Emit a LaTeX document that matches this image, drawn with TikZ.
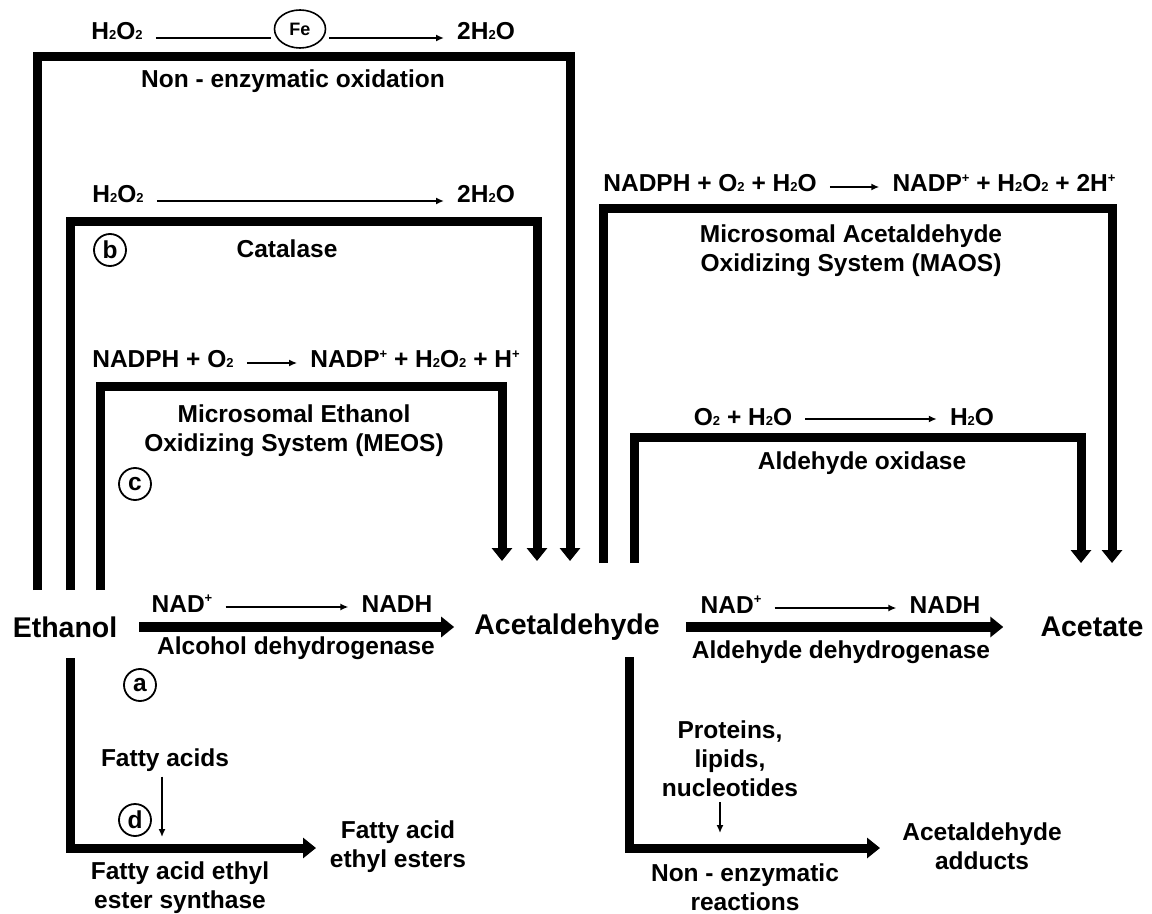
\documentclass[tikz,border=0pt]{standalone}
\usepackage{fontspec}
\setmainfont{Liberation Sans}
\usepackage{tikz}
\usetikzlibrary{arrows.meta, shapes.geometric}

\newcommand{\dn}[1]{{\fontsize{13}{13}\selectfont #1}}
\newcommand{\up}[1]{\raisebox{0.38em}{\fontsize{13}{13}\selectfont #1}}

\begin{document}
\begin{tikzpicture}[x=1pt, y=-1pt,
    lbl/.style={font=\fontsize{24.5}{29}\selectfont\bfseries, align=center, inner sep=0pt},
    chem/.style={font=\fontsize{28.5}{32}\selectfont\bfseries, inner sep=0pt},
    eqn/.style={font=\fontsize{24.5}{29}\selectfont\bfseries, anchor=base, inner xsep=13pt, inner ysep=0pt},
    tag/.style={circle, draw, line width=1.8pt, minimum size=32pt, inner sep=0pt, font=\fontsize{24.5}{29}\selectfont\bfseries},
    pathway/.style={line width=9pt, line join=miter, -{Triangle[width=20pt,length=13pt]}},
    react/.style={line width=1.8pt, -{Latex[width=7pt,length=8pt]}}]

    % Background and bounds
    \fill[white] (0,0) rectangle (1152,913);

    % Non-enzymatic oxidation
    \node[eqn] (hpa) at (117,40) {H\dn{2}O\dn{2}};
    \node[ellipse, draw, line width=1.6pt, minimum width=51pt, minimum height=38pt, inner sep=0pt,
          font=\fontsize{18}{18}\selectfont\bfseries] (fe) at (300,29) {Fe};
    \node[eqn] (wa) at (486,40) {2H\dn{2}O};
    \coordinate (fe-in) at ([yshift=-9pt]fe.west);
    \coordinate (fe-out) at ([yshift=-9pt]fe.east);
    \draw[line width=1.8pt, shorten >=3pt] ([yshift=2pt]hpa.base east) -- (fe-in);
    \draw[react, shorten <=3pt] (fe-out) -- ([yshift=2pt]wa.base west);
    \node[lbl] (nonox) at (293,81) {Non - enzymatic oxidation};

    % Catalase
    \node[eqn] (hpb) at (118,203) {H\dn{2}O\dn{2}};
    \node[eqn] (wb) at (486,203) {2H\dn{2}O};
    \draw[react] ([yshift=2pt]hpb.base east) -- ([yshift=2pt]wb.base west);
    \node[lbl] (catalase) at (287,249) {Catalase};
    \node[tag] (b) at (110,250) {b};

    % MEOS
    \node[eqn] (meosin) at (163,368) {NADPH + O\dn{2}};
    \node[eqn] (meosout) at (415,368) {NADP\up{+} + H\dn{2}O\dn{2} + H\up{+}};
    \draw[react] ([yshift=5pt]meosin.base east) -- ([yshift=5pt]meosout.base west);
    \node[lbl] (meos) at (294,431) {Microsomal Ethanol\\Oxidizing System (MEOS)};
    \node[tag] (c) at (135,484) {c};

    % Main line
    \node[chem] (ethanol) at (65,627) {Ethanol};
    \node[chem] (acetaldehyde) at (567,627) {Acetaldehyde};
    \node[chem] (acetate) at (1092,627) {Acetate};

    \node[eqn] (nada) at (182,612) {NAD\up{+}};
    \node[eqn] (nadha) at (397,612) {NADH};
    \draw[react] ([yshift=5pt]nada.base east) -- ([yshift=5pt]nadha.base west);
    \draw[pathway, line width=10pt, shorten <=22pt, shorten >=20pt] (ethanol.east) -- (acetaldehyde.west);
    \node[lbl] (adh) at (296,648) {Alcohol dehydrogenase};
    \node[tag] (a) at (140,685) {a};

    \node[eqn] (nadb) at (731,613) {NAD\up{+}};
    \node[eqn] (nadhb) at (945,613) {NADH};
    \draw[react] ([yshift=5pt]nadb.base east) -- ([yshift=5pt]nadhb.base west);
    \draw[pathway, line width=10pt, shorten <=26pt, shorten >=37pt] (acetaldehyde.east) -- (acetate.west);
    \node[lbl] (aldh) at (841,652) {Aldehyde dehydrogenase};

    % MAOS and aldehyde oxidase
    \node[eqn] (maosin) at (710,192) {NADPH + O\dn{2} + H\dn{2}O};
    \node[eqn] (maosout) at (1004,192) {NADP\up{+} + H\dn{2}O\dn{2} + 2H\up{+}};
    \draw[react] ([yshift=5pt]maosin.base east) -- ([yshift=5pt]maosout.base west);
    \node[lbl] (maos) at (851,251) {Microsomal Acetaldehyde\\Oxidizing System (MAOS)};

    \node[eqn] (aoin) at (743,425) {O\dn{2} + H\dn{2}O};
    \node[eqn] (aoout) at (972,425) {H\dn{2}O};
    \draw[react] ([yshift=6pt]aoin.base east) -- ([yshift=6pt]aoout.base west);
    \node[lbl] (ao) at (862,463) {Aldehyde oxidase};

    % Pathway brackets
    \foreach \n/\xl/\yf/\yt/\xr/\yh in {ox/37/590/57/570/561, cat/70/590/222/537/561,
            meos/100/590/387/502/561, maos/603/563/209/1112/563, ao/634/563/437/1081/563} {
        \coordinate (\n-foot) at (\xl,\yf);
        \coordinate (\n-top) at (\xr,\yt);
        \coordinate (\n-tip) at (\xr,\yh);
        \draw[pathway] (\n-foot) |- (\n-top) -- (\n-tip);
    }

    % Side branches
    \foreach \n/\xl/\yf/\yb/\xt in {fa/70/658/848/316, adduct/629/657/848/880} {
        \coordinate (\n-foot) at (\xl,\yf);
        \coordinate (\n-tip) at (\xt,\yb);
        \draw[pathway] (\n-foot) |- (\n-tip);
    }

    \node[lbl] (fattyacids) at (165,760) {Fatty acids};
    \coordinate (fa-in) at (162,837);
    \draw[react, line width=1.5pt, shorten <=5pt] (fattyacids.south -| fa-in) -- (fa-in);
    \node[tag] (d) at (135,820) {d};
    \node[lbl] (faes) at (180,888) {Fatty acid ethyl\\ester synthase};
    \node[lbl] (faee) at (398,847) {Fatty acid\\ethyl esters};

    \node[lbl] (proteins) at (730,759) {Proteins,\\lipids,\\nucleotides};
    \coordinate (pr-in) at (720,833);
    \draw[react, line width=1.5pt, shorten <=5pt] (proteins.south -| pr-in) -- (pr-in);
    \node[lbl] (nonenz) at (745,887) {Non - enzymatic\\reactions};
    \node[lbl] (adducts) at (982,846) {Acetaldehyde\\adducts};
\end{tikzpicture}
\end{document}
